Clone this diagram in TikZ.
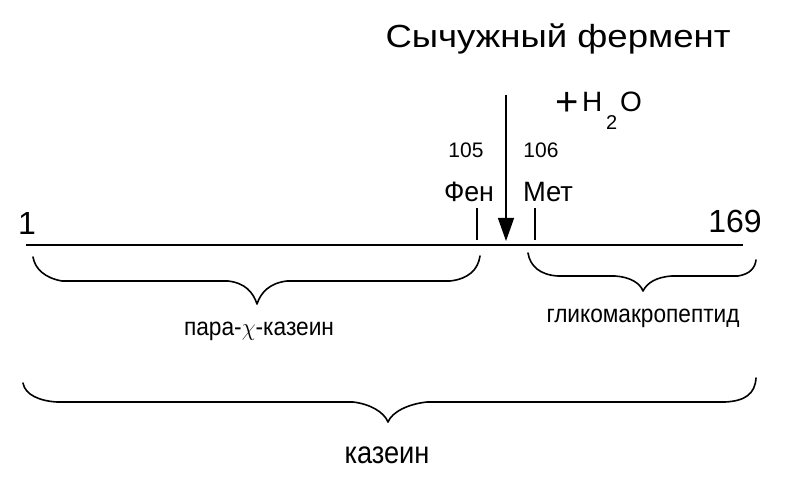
\documentclass[tikz,border=0pt]{standalone}
\usepackage{fontspec}
\setmainfont{Liberation Sans}
\usepackage{graphicx}
\usetikzlibrary{arrows.meta}
\newcommand{\fitw}[2]{\resizebox{#1}{\height}{#2}}
\newcommand{\fs}[1]{\fontsize{#1}{#1}\selectfont}
\tikzset{
  txt/.style={inner sep=0pt, outer sep=0pt, anchor=base},
  lineax/.style={line width=1.8pt},
  tickmark/.style={line width=1.3pt},
  bracestyle/.style={line width=1.6pt, line join=round, line cap=round},
  cutarrow/.style={line width=1.3pt, -{Triangle[length=23pt,width=16pt]}}
}
\begin{document}
\begin{tikzpicture}[x=1pt,y=-1pt]
\useasboundingbox[fill=white] (0,0) rectangle (786,486);

% titles
\node[txt] (enz) at (558,48) {\fs{32}\fitw{345pt}{Сычужный фермент}};
\node[txt,anchor=base west] (plus) at (555,116) {\fs{40}+};
\node[txt,anchor=base west] (hh) at (582,112) {\fs{28}H};
\node[txt,anchor=base west] (two) at (606,130) {\fs{20}2};
\node[txt,anchor=base west] (oo) at (620,112) {\fs{28}O};

% residue labels
\node[txt] (n105) at (466,158) {\fs{21}105};
\node[txt] (n106) at (541,158) {\fs{21}106};
\node[txt] (phe) at (469,202) {\fs{28}\fitw{50pt}{Фен}};
\node[txt] (met) at (548,202) {\fs{28}\fitw{50pt}{Мет}};
\node[txt] (one) at (27,234) {\fs{32}1};
\node[txt] (end) at (735,233) {\fs{32}169};

% main chain
\coordinate (L) at (26,245);
\coordinate (R) at (743,245);
\draw[lineax] (L) -- (R);

% ticks
\coordinate (t1a) at (477,208);
\coordinate (t1b) at (477,240);
\coordinate (t2a) at (535,208);
\coordinate (t2b) at (535,240);
\draw[tickmark] (t1a) -- (t1b);
\draw[tickmark] (t2a) -- (t2b);

% arrow
\coordinate (atop) at (506,95);
\coordinate (atip) at (506,241);
\draw[cutarrow] (atop) -- (atip);

% para-kappa-casein brace
\draw[bracestyle] (33,257) .. controls (35,269) and (45,278) .. (62,281)
  -- (228,281) .. controls (245,283) and (253,292) .. (257,304)
  .. controls (261,292) and (270,283) .. (287,281)
  -- (450,281) .. controls (468,279) and (478,270) .. (480,256);
\node[txt] (para) at (259,335) {\fs{25}\fitw{150pt}{пара-$\chi$-казеин}};

% glycomacropeptide brace
\draw[bracestyle] (528,253) .. controls (530,266) and (540,275) .. (558,276)
  -- (615,276) .. controls (630,277) and (640,283) .. (643,291)
  .. controls (647,283) and (656,277) .. (672,276)
  -- (738,276) .. controls (750,274) and (755,268) .. (756,260);
\node[txt] (gmp) at (643,322) {\fs{25}\fitw{193pt}{гликомакропептид}};

% casein brace
\draw[bracestyle] (23,383) .. controls (25,395) and (40,401) .. (57,402)
  -- (353,402) .. controls (370,404) and (384,412) .. (388,422)
  .. controls (392,412) and (408,404) .. (427,402)
  -- (725,402) .. controls (745,401) and (755,394) .. (756,378);
\node[txt] (cas) at (387,463) {\fs{31}\fitw{85pt}{казеин}};
\end{tikzpicture}
\end{document}
